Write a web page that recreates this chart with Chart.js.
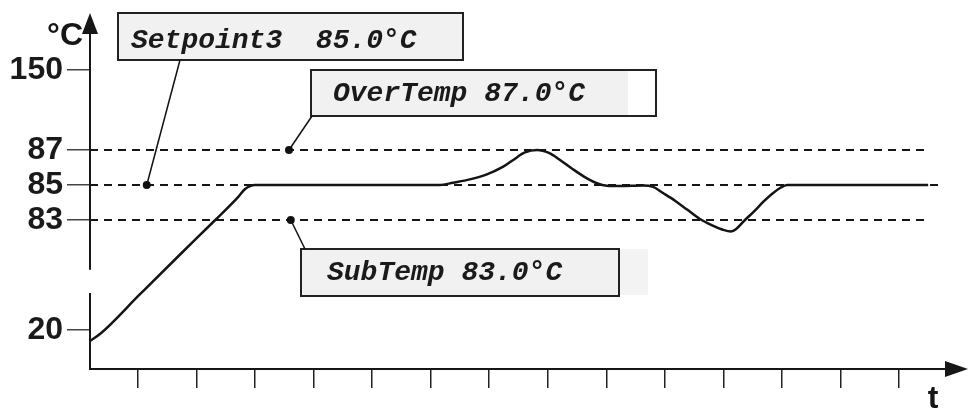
<!DOCTYPE html>
<html><head><meta charset="utf-8">
<script src="https://cdn.jsdelivr.net/npm/chart.js@4"></script>
<style>html,body{margin:0;padding:0;background:#fff;}canvas{display:block;}</style>
</head><body>
<canvas id="c" width="973" height="410"></canvas>
<script>
// ---- data ----
const tempTime   = [0,0.17,0.85,1.53,2.14,2.53,2.65,2.82,5.98,6.2,6.49,6.78,7.06,7.23,7.43,7.64,7.84,8.03,8.25,8.49,8.66,8.83,9.06,9.45,9.62,9.79,10.0,10.2,10.42,10.62,10.8,10.95,11.04,11.19,11.35,11.5,11.65,11.79,11.91,14.32];
const tempValues = [14.4,17.9,48.9,81,83,84.31,84.77,85,85,85.13,85.32,85.61,86.05,86.43,86.86,87,86.83,86.43,85.9,85.38,85.1,84.96,84.94,84.97,84.89,84.54,84.09,83.6,83.06,82.71,82.46,82.34,82.49,83.0,83.51,84.03,84.49,84.83,85,85];
const limitNames  = ['OverTemp', 'Setpoint3', 'SubTemp'];
const limitValues = [87, 85, 83];
const limitEnds   = [14.3, 14.5, 14.3];
const anchorTime  = [3.40, 0.97, 3.43];
const calloutText = ['OverTemp 87.0°C', 'Setpoint3  85.0°C', 'SubTemp 83.0°C'];
const yTicks = [20, 83, 85, 87, 150];
const tTicks = [0.82,1.82,2.82,3.82,4.82,5.82,6.82,7.82,8.82,9.82,10.82,11.82,12.82,13.82];
const axisBreak = [50, 69];

// ---- broken (piecewise) value scale ----
class BrokenScale extends Chart.LinearScale {
  _frac(v) {
    const s = this.options.stops;
    if (v <= s[0][0]) return s[0][1];
    for (let i = 1; i < s.length; i++) {
      if (v <= s[i][0]) {
        const v0 = s[i-1][0], f0 = s[i-1][1], v1 = s[i][0], f1 = s[i][1];
        return f0 + (v - v0) / (v1 - v0) * (f1 - f0);
      }
    }
    return s[s.length-1][1];
  }
  getPixelForValue(v) { return this.bottom - this._frac(v) * (this.bottom - this.top); }
  getValueForPixel(p) {
    const f = (this.bottom - p) / (this.bottom - this.top);
    const s = this.options.stops;
    for (let i = 1; i < s.length; i++) {
      if (f <= s[i][1]) {
        const v0 = s[i-1][0], f0 = s[i-1][1], v1 = s[i][0], f1 = s[i][1];
        return v0 + (f - f0) / (f1 - f0) * (v1 - v0);
      }
    }
    return s[s.length-1][0];
  }
}
BrokenScale.id = 'broken';
BrokenScale.defaults = {};
Chart.register(BrokenScale);

const dark = '#161616';

const decor = {
  id: 'decor',
  afterDraw(chart, args, o) {
    const {ctx, chartArea: a, scales: {x, y}} = chart;
    ctx.save();
    ctx.strokeStyle = dark; ctx.lineWidth = 2; ctx.lineCap = 'butt';
    const gTop = y.getPixelForValue(axisBreak[1]), gBot = y.getPixelForValue(axisBreak[0]);
    ctx.beginPath();
    ctx.moveTo(a.left, a.top + 15); ctx.lineTo(a.left, gTop);
    ctx.moveTo(a.left, gBot); ctx.lineTo(a.left, a.bottom);
    ctx.lineTo(a.right - 18, a.bottom);
    ctx.stroke();
    ctx.fillStyle = dark;
    ctx.beginPath(); ctx.moveTo(a.left, a.top); ctx.lineTo(a.left - 8, a.top + 21); ctx.lineTo(a.left + 8, a.top + 21); ctx.closePath(); ctx.fill();
    ctx.beginPath(); ctx.moveTo(a.right, a.bottom); ctx.lineTo(a.right - 23, a.bottom - 8); ctx.lineTo(a.right - 23, a.bottom + 8); ctx.closePath(); ctx.fill();
    ctx.font = 'bold 32px "Liberation Sans", Arial, sans-serif';
    ctx.textBaseline = 'alphabetic';
    ctx.textAlign = 'right'; ctx.fillText('°C', a.left - 7, 45);
    ctx.textAlign = 'center'; ctx.fillText('t', 933, 408);
    const anchors = chart.getDatasetMeta(1).data;
    o.boxes.forEach((b, i) => {
      const [l, t, r, btm] = b.rect;
      if (b.extra) { ctx.fillStyle = '#f3f3f3'; ctx.fillRect(b.extra[0], b.extra[1], b.extra[2] - b.extra[0], b.extra[3] - b.extra[1]); }
      ctx.fillStyle = '#ffffff'; ctx.fillRect(l, t, r - l, btm - t);
      ctx.fillStyle = '#f1f1f1'; ctx.fillRect(l, t, (b.fillTo || r) - l, btm - t);
      ctx.strokeStyle = '#222'; ctx.lineWidth = 2; ctx.strokeRect(l, t, r - l, btm - t);
      ctx.fillStyle = '#1a1a1a';
      ctx.font = 'italic bold 28px "Liberation Mono", "Courier New", monospace';
      ctx.textAlign = 'left'; ctx.textBaseline = 'alphabetic';
      ctx.fillText(calloutText[i], b.textX, b.baseline);
      const p = anchors[i];
      ctx.strokeStyle = '#111'; ctx.lineWidth = 1.5;
      ctx.beginPath(); ctx.moveTo(b.from[0], b.from[1]); ctx.lineTo(p.x, p.y); ctx.stroke();
    });
    ctx.restore();
  }
};

const limitSets = limitValues.map((v, i) => ({
  label: limitNames[i],
  data: [{x: 0, y: v}, {x: limitEnds[i], y: v}],
  borderColor: dark, borderWidth: 2, borderDash: [8, 6],
  pointRadius: 0, fill: false, tension: 0
}));

new Chart(document.getElementById('c'), {
  type: 'line',
  data: {
    datasets: [
      { label: 'Temperature', data: tempTime.map((t, i) => ({x: t, y: tempValues[i]})),
        borderColor: '#141414', borderWidth: 2.5, pointRadius: 0, fill: false,
        cubicInterpolationMode: 'monotone' },
      { label: 'anchors', data: anchorTime.map((t, i) => ({x: t, y: limitValues[i]})),
        showLine: false, pointRadius: 4, pointBackgroundColor: '#111', pointBorderColor: '#111', pointBorderWidth: 0 },
      ...limitSets
    ]
  },
  options: {
    responsive: false, animation: false, devicePixelRatio: 1,
    layout: { padding: { top: 13, right: 5, left: 0, bottom: 0 } },
    plugins: {
      legend: { display: false }, tooltip: { enabled: false },
      decor: { boxes: [
        { rect: [311, 70, 656, 116], fillTo: 628, textX: 333, baseline: 101, from: [312, 116] },
        { rect: [118, 13, 463, 60], textX: 131, baseline: 48, from: [180, 60] },
        { rect: [301, 249, 619, 296], extra: [619, 249, 648, 295], textX: 327, baseline: 280, from: [305, 249] }
      ] }
    },
    scales: {
      x: {
        type: 'linear', min: 0, max: 15,
        afterBuildTicks: s => { s.ticks = tTicks.map(v => ({value: v})); },
        afterFit: s => { s.height = 41; s.paddingLeft = 0; s.paddingRight = 0; },
        ticks: { display: false, autoSkip: false },
        grid: { drawOnChartArea: false, drawTicks: true, tickLength: 19, color: '#222', lineWidth: 1.5 },
        border: { display: false }
      },
      y: {
        type: 'broken', min: 0, max: 195,
        stops: [[0, 0], [20, 0.1096], [81, 0.3202], [89, 0.7135], [150, 0.8399], [195, 1]],
        afterBuildTicks: s => { s.ticks = yTicks.map(v => ({value: v})); },
        afterFit: s => { s.width = 90; s.paddingTop = 0; s.paddingBottom = 0; },
        ticks: { autoSkip: false, padding: 4, color: '#1a1a1a',
          font: { family: '"Liberation Sans", Arial, sans-serif', size: 32, weight: 'bold' } },
        grid: { drawOnChartArea: false, drawTicks: true, tickLength: 23, color: '#444', lineWidth: 1.5 },
        border: { display: false }
      }
    }
  },
  plugins: [decor]
});
</script>
</body></html>
